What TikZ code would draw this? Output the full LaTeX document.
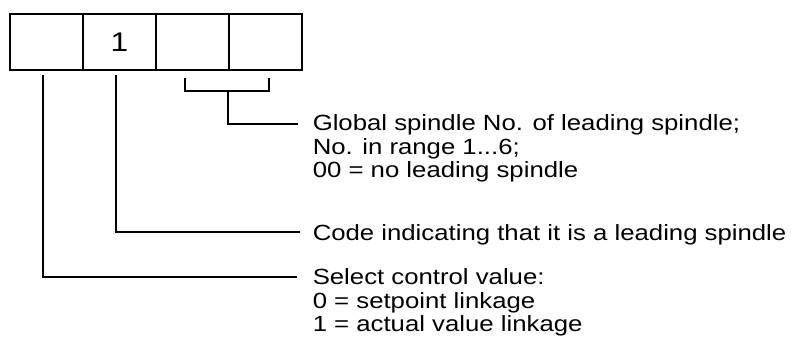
\documentclass[tikz,border=0pt]{standalone}
\usepackage{fontspec}
\setmainfont{Liberation Sans}[FakeStretch=1.17]
\begin{document}
\begin{tikzpicture}[x=1pt,y=-1pt,line width=1.5pt,
  cell/.style={draw,line width=1.8pt,minimum width=73pt,minimum height=56pt,inner sep=0pt,anchor=north west,font=\fontsize{27}{30}\selectfont},
  lbl/.style={anchor=base west,inner sep=0pt,align=left,font=\fontsize{22}{23.5}\selectfont}]
\useasboundingbox (0,0) rectangle (791,356);
\node[cell] (b1) at (9,13) {};
\node[cell] (b2) at (82,13) {\raisebox{-1.5pt}{1}};
\node[cell] (b3) at (155,13) {};
\node[cell] (b4) at (228,13) {};
% labels (multi-line nodes: base anchor is the last line)
\node[lbl] (t1) at (312,177.5) {Global spindle No. of leading spindle;\\No. in range 1...6;\\00 = no leading spindle};
\node[lbl] (t2) at (312,240.5) {Code indicating that it is a leading spindle};
\node[lbl] (t3) at (312,331.5) {Select control value:\\0 = setpoint linkage\\1 = actual value linkage};
% connector points
\coordinate (k1) at (185,78);
\coordinate (k2) at (269,78);
\coordinate (s1) at (228,91);
\coordinate (e1) at (298,124);
\coordinate (a2) at (116,75);
\coordinate (e2) at (300,232);
\coordinate (a3) at (43,75);
\coordinate (e3) at (297,277);
\draw (k1) |- (s1) -| (k2);
\draw (s1) |- (e1);
\draw (a2) |- (e2);
\draw (a3) |- (e3);
\end{tikzpicture}
\end{document}
